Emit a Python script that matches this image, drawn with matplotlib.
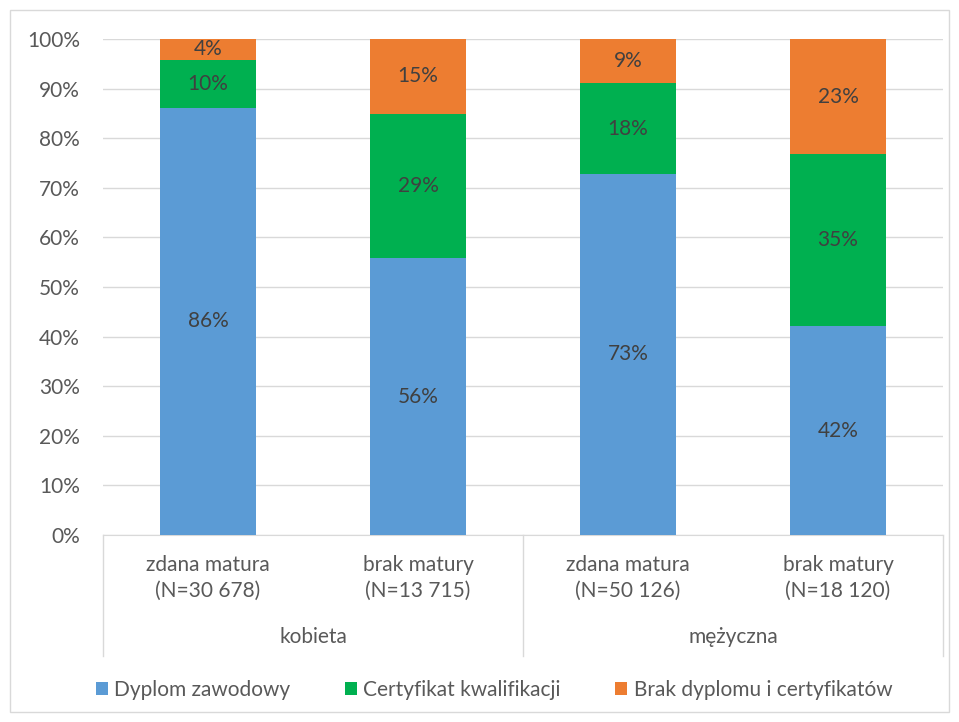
import numpy as np
import matplotlib
matplotlib.use("Agg")
import matplotlib.pyplot as plt
from matplotlib.patches import Rectangle

plt.rcParams['font.family'] = ['Lato', 'DejaVu Sans']

# Data
categories = ["zdana matura\n(N=30 678)", "brak matury\n(N=13 715)",
              "zdana matura\n(N=50 126)", "brak matury\n(N=18 120)"]
groups = ["kobieta", "mężyczna"]
series_names = ["Dyplom zawodowy", "Certyfikat kwalifikacji", "Brak dyplomu i certyfikatów"]
dyplom = [86.1, 55.8, 72.8, 42.1]
certyfikat = [9.7, 29.1, 18.3, 34.7]
brak = [4.2, 15.1, 8.9, 23.2]
colors = ["#5B9BD5", "#00B050", "#ED7D31"]

FS = 15

fig = plt.figure(figsize=(9.59, 7.22), dpi=100)
ax = fig.add_axes([103 / 959, 1 - 535 / 722, 840 / 959, 496 / 722])

x = np.arange(len(categories))
bottom = np.zeros(len(categories))
handles = []
for vals, name, col in zip([dyplom, certyfikat, brak], series_names, colors):
    vals = np.array(vals)
    b = ax.bar(x, vals, bottom=bottom, width=0.46, color=col, label=name, zorder=3)
    handles.append(b)
    for xi, v, bt in zip(x, vals, bottom):
        ax.text(xi, bt + v / 2, f"{round(v)}%", ha="center", va="center",
                fontsize=FS, color="#404040", zorder=4)
    bottom += vals

ax.set_xlim(-0.5, 3.5)
ax.set_ylim(0, 100)
ax.set_yticks(np.arange(0, 101, 10))
ax.set_yticklabels([f"{t}%" for t in range(0, 101, 10)], fontsize=FS, color="#595959")
ax.yaxis.grid(True, color="#D9D9D9", linewidth=1, zorder=0)
ax.tick_params(axis="y", length=0, pad=16.5)
ax.tick_params(axis="x", length=0)
for s in ["top", "right", "left"]:
    ax.spines[s].set_visible(False)
ax.spines["bottom"].set_color("#D9D9D9")

ax.set_xticks(x)
ax.set_xticklabels([])
for xi, lab in zip(x, categories):
    ax.text(xi, -0.087, lab, transform=ax.get_xaxis_transform(), ha="center", va="center",
            fontsize=FS, color="#595959", linespacing=1.4)
for gi, g in enumerate(groups):
    ax.text(gi * 2 + 0.5, -0.206, g, transform=ax.get_xaxis_transform(), ha="center",
            va="center", fontsize=FS, color="#595959")
for sx in [-0.5, 1.5, 3.5]:
    ax.plot([sx, sx], [0, -0.244], transform=ax.get_xaxis_transform(), color="#D9D9D9",
            linewidth=1, clip_on=False)

leg = fig.legend(handles=handles, labels=series_names, loc="center", ncol=3,
                 bbox_to_anchor=(494 / 959, 1 - 690 / 722), frameon=False, fontsize=FS,
                 handlelength=0.6, handleheight=0.6, handletextpad=0.3, columnspacing=2.6)
for t in leg.get_texts():
    t.set_color("#595959")

fig.patches.append(Rectangle((10 / 959, 10 / 722), 939 / 959, 702 / 722, transform=fig.transFigure,
                             fill=False, edgecolor="#D9D9D9", linewidth=1))

fig.savefig("out.png", dpi=100)
